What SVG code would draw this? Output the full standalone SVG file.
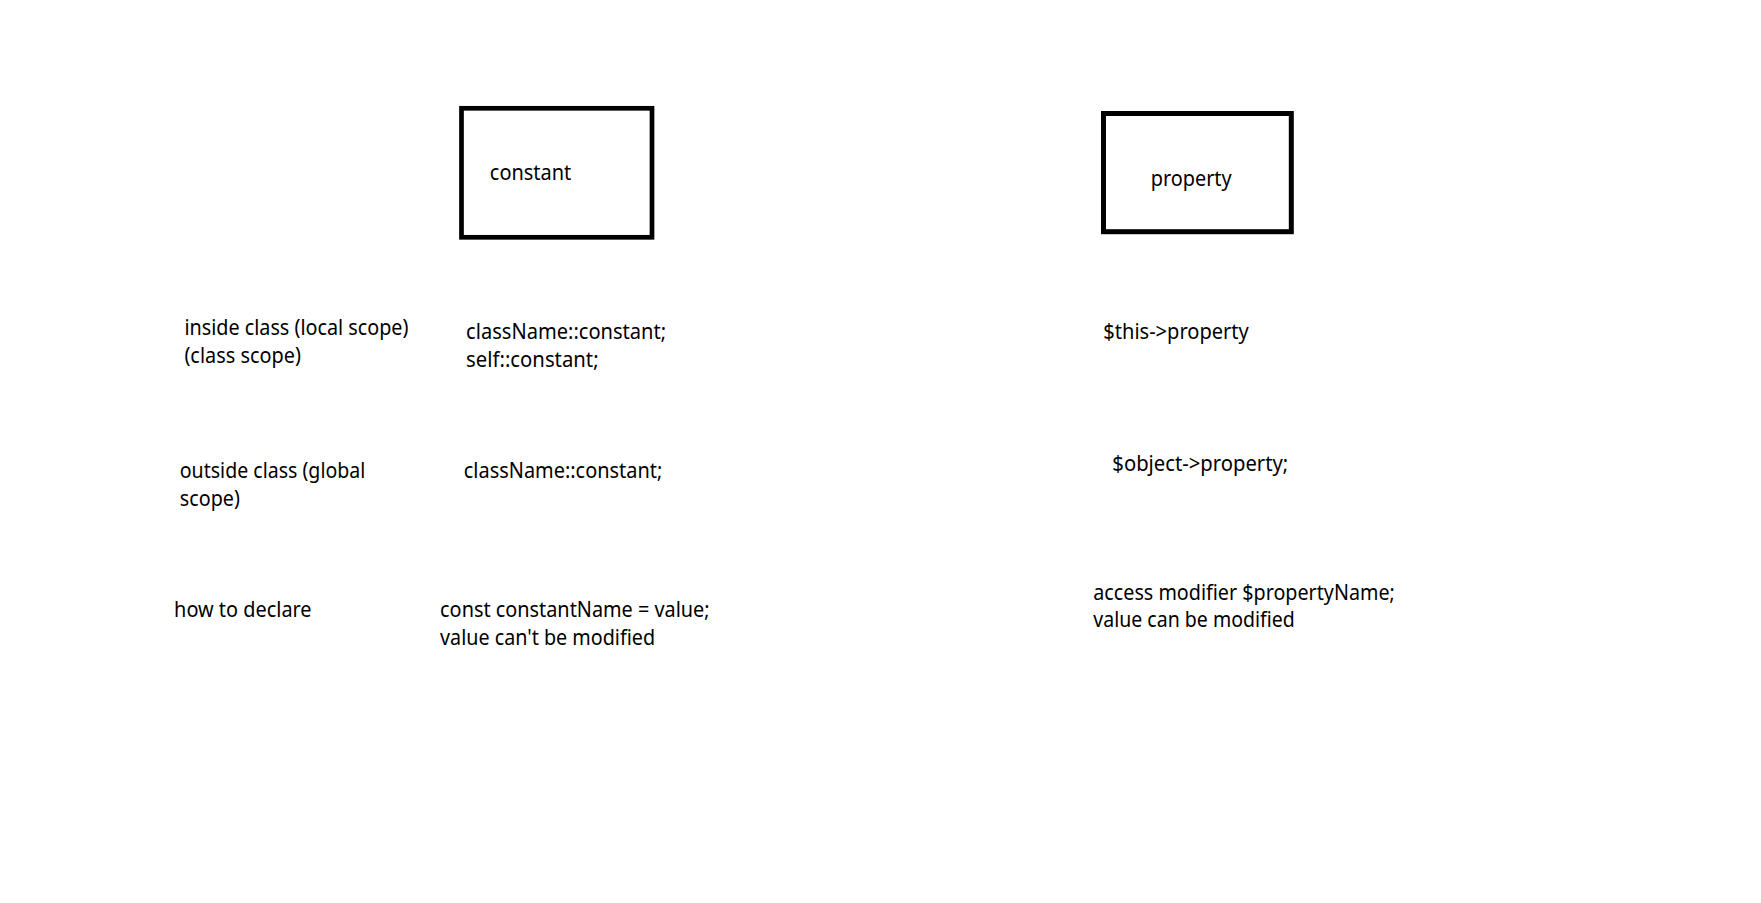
<svg xmlns="http://www.w3.org/2000/svg" width="1761" height="903" viewBox="0 0 1761 903">
<style>
  .box { fill: none; stroke: #000; }
  .t { font-family: "Noto Sans", "Open Sans", sans-serif; font-size: 21px; fill: #000; }
</style>
<rect x="0" y="0" width="1761" height="903" fill="#fff"/>
<g id="node-constant">
  <rect class="box" x="461.5" y="108.3" width="190.5" height="129" stroke-width="4.7"/>
  <text class="t" x="489.8" y="180" textLength="81.5" lengthAdjust="spacingAndGlyphs">constant</text>
</g>
<g id="node-property">
  <rect class="box" x="1103.5" y="113.5" width="187.8" height="118.2" stroke-width="5"/>
  <text class="t" x="1150.7" y="186" textLength="81" lengthAdjust="spacingAndGlyphs">property</text>
</g>
<g id="label-inside">
  <text class="t" x="184.4" y="335" textLength="224" lengthAdjust="spacingAndGlyphs">inside class (local scope)</text>
  <text class="t" x="184.4" y="362.7" textLength="116.5" lengthAdjust="spacingAndGlyphs">(class scope)</text>
</g>
<g id="const-inside">
  <text class="t" x="466.1" y="339.3" textLength="200" lengthAdjust="spacingAndGlyphs">className::constant;</text>
  <text class="t" x="466.1" y="366.7" textLength="132.5" lengthAdjust="spacingAndGlyphs">self::constant;</text>
</g>
<g id="prop-inside">
  <text class="t" x="1103.3" y="339.3" textLength="145.5" lengthAdjust="spacingAndGlyphs">$this-&gt;property</text>
</g>
<g id="label-outside">
  <text class="t" x="179.8" y="478.3" textLength="185.5" lengthAdjust="spacingAndGlyphs">outside class (global</text>
  <text class="t" x="179.8" y="506" textLength="60" lengthAdjust="spacingAndGlyphs">scope)</text>
</g>
<g id="const-outside">
  <text class="t" x="463.8" y="478.3" textLength="198.5" lengthAdjust="spacingAndGlyphs">className::constant;</text>
</g>
<g id="prop-outside">
  <text class="t" x="1112.3" y="470.7" textLength="176" lengthAdjust="spacingAndGlyphs">$object-&gt;property;</text>
</g>
<g id="label-declare">
  <text class="t" x="174.1" y="617.3" textLength="137.5" lengthAdjust="spacingAndGlyphs">how to declare</text>
</g>
<g id="const-declare">
  <text class="t" x="440.1" y="617.3" textLength="269.5" lengthAdjust="spacingAndGlyphs">const constantName = value;</text>
  <text class="t" x="440.1" y="645" textLength="215" lengthAdjust="spacingAndGlyphs">value can't be modified</text>
</g>
<g id="prop-declare">
  <text class="t" x="1093.3" y="600" textLength="301.5" lengthAdjust="spacingAndGlyphs">access modifier $propertyName;</text>
  <text class="t" x="1093.3" y="627.3" textLength="201.5" lengthAdjust="spacingAndGlyphs">value can be modified</text>
</g>
<g id="connectors"></g>
</svg>
